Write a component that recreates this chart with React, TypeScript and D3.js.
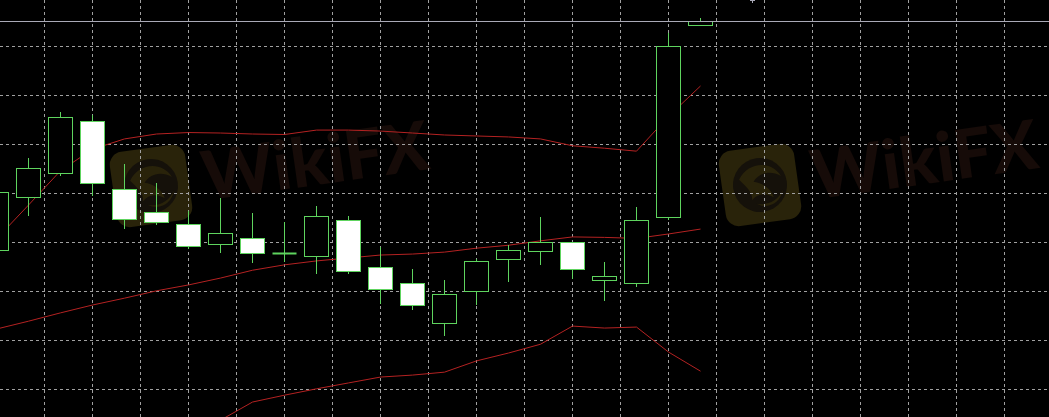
import React, { useEffect } from 'react';
import * as d3 from 'd3';

const W = 1049;
const H = 417;

// OHLC of the visible candles (oldest first)
const opens = [1.32084, 1.32192, 1.32241, 1.32348, 1.32209, 1.32162, 1.32137, 1.32097, 1.32109, 1.32079, 1.32072, 1.32146, 1.32050, 1.32017, 1.31935, 1.32001, 1.32066, 1.32082, 1.32101, 1.32023, 1.32017, 1.32152, 1.32543];
const highs = [1.32211, 1.32272, 1.32366, 1.32360, 1.32260, 1.32221, 1.32164, 1.32190, 1.32160, 1.32141, 1.32174, 1.32154, 1.32090, 1.32045, 1.32023, 1.32066, 1.32094, 1.32152, 1.32101, 1.32060, 1.32172, 1.32527, 1.32558];
const lows = [1.32074, 1.32154, 1.32235, 1.32194, 1.32127, 1.32135, 1.32086, 1.32078, 1.32058, 1.32060, 1.32035, 1.32035, 1.31974, 1.31962, 1.31909, 1.31972, 1.32019, 1.32054, 1.32025, 1.31980, 1.32009, 1.32146, 1.32541];
const closes = [1.32203, 1.32252, 1.32356, 1.32221, 1.32148, 1.32141, 1.32092, 1.32119, 1.32078, 1.32079, 1.32154, 1.32041, 1.32005, 1.31972, 1.31994, 1.32062, 1.32084, 1.32101, 1.32045, 1.32031, 1.32146, 1.32500, 1.32552];

// Bollinger bands
const bandUpper = [1.32107, 1.32176, 1.32246, 1.32290, 1.32311, 1.32321, 1.32324, 1.32323, 1.32321, 1.32320, 1.32329, 1.32329, 1.32327, 1.32323, 1.32319, 1.32317, 1.32315, 1.32311, 1.32297, 1.32292, 1.32286, 1.32357, 1.32419];
const bandMiddle = [1.31923, 1.31939, 1.31956, 1.31972, 1.31986, 1.32001, 1.32013, 1.32027, 1.32043, 1.32054, 1.32062, 1.32068, 1.32074, 1.32076, 1.32080, 1.32088, 1.32094, 1.32103, 1.32111, 1.32110, 1.32108, 1.32117, 1.32127];
const bandLower = [1.31739, 1.31707, 1.31670, 1.31654, 1.31662, 1.31680, 1.31701, 1.31737, 1.31774, 1.31788, 1.31801, 1.31813, 1.31825, 1.31829, 1.31835, 1.31858, 1.31874, 1.31892, 1.31929, 1.31925, 1.31927, 1.31876, 1.31837];

// Grid levels
const gridPrices = [1.3250, 1.3240, 1.3230, 1.3220, 1.3210, 1.3200, 1.3190, 1.3180];
const gridBars = [1.5, 3, 4.5, 6, 7.5, 9, 10.5, 12, 13.5, 15, 16.5, 18, 19.5, 21, 22.5, 24, 25.5, 27, 28.5, 30, 31.5];
const currentPrice = 1.32551;

const GREEN = '#5ed45e';
const RED = '#b42222';
const GRID = '#a0a0a0';

const y = d3.scaleLinear().domain([1.3250, 1.3180]).range([46.3, 389.3]);
const x = d3.scaleLinear().domain([0, 1]).range([-3.5, 28.5]);
const half = 12;

const px = (v: number) => Math.floor(v) + 0.5;

function Watermark({ cx, cy }: { cx: number; cy: number }) {
  return (
    <g transform={`translate(${cx},${cy}) rotate(-8)`}>
      <rect x={-38} y={-38} width={76} height={76} rx={13} fill="#29230a" />
      <circle cx={0} cy={0} r={27} fill="#15110a" />
      <path d="M-20,-8 C-10,-24 14,-24 22,-6 C12,-14 0,-12 -6,-4 C2,-2 10,4 12,14 C4,8 -4,8 -10,14 C-8,6 -14,0 -20,-8 Z" fill="#29230a" />
      <path d="M-6,18 C4,22 16,18 22,8 C18,20 6,26 -6,18 Z" fill="#29230a" />
      <text x={52} y={22} fill="#160b08" fontFamily="Lato, 'Open Sans', sans-serif" fontWeight={900} fontSize={68}>WikiFX</text>
    </g>
  );
}

export default function App() {
  useEffect(() => {
    document.body.style.margin = '0';
    document.body.style.background = '#000';
  }, []);

  const line = (vals: number[]) =>
    d3.line<number>().x((_, i) => x(i)).y((v) => y(v))(vals) || '';

  return (
    <svg width={W} height={H} style={{ display: 'block', background: '#000' }}>
      <rect x={0} y={0} width={W} height={H} fill="#000" />
      <Watermark cx={151} cy={186} />
      <Watermark cx={760} cy={185} />
      {gridPrices.map((p) => (
        <line key={'h' + p} x1={0} x2={W} y1={px(y(p))} y2={px(y(p))} stroke={GRID} strokeWidth={1} strokeDasharray="3,3" />
      ))}
      {gridBars.map((b) => (
        <line key={'v' + b} y1={0} y2={H} x1={px(x(b))} x2={px(x(b))} stroke={GRID} strokeWidth={1} strokeDasharray="3,3" />
      ))}
      <path d={line(bandUpper)} fill="none" stroke={RED} strokeWidth={1} />
      <path d={line(bandMiddle)} fill="none" stroke={RED} strokeWidth={1} />
      <path d={line(bandLower)} fill="none" stroke={RED} strokeWidth={1} />
      {opens.map((o, i) => {
        const c = closes[i];
        const cx = x(i);
        const top = Math.round(y(Math.max(o, c))) + 0.5;
        const bot = Math.round(y(Math.min(o, c))) + 0.5;
        const bear = c < o;
        return (
          <g key={i}>
            <line x1={cx} x2={cx} y1={Math.round(y(highs[i]))} y2={Math.round(y(lows[i]))} stroke={GREEN} strokeWidth={1} />
            {o === c ? (
              <line x1={cx - half} x2={cx + half} y1={top} y2={top} stroke={GREEN} strokeWidth={2} />
            ) : (
              <rect x={cx - half} y={top} width={half * 2} height={Math.max(1, bot - top)} fill={bear ? '#ffffff' : '#000000'} stroke={GREEN} strokeWidth={1} />
            )}
          </g>
        );
      })}
      <line x1={0} x2={W} y1={px(y(currentPrice))} y2={px(y(currentPrice))} stroke="#a9a9b6" strokeWidth={1} />
      <g stroke="#a9a9b6" strokeWidth={1}>
        <line x1={750} x2={755} y1={0.5} y2={0.5} />
        <line x1={752.5} x2={752.5} y1={0} y2={3} />
      </g>
    </svg>
  );
}
